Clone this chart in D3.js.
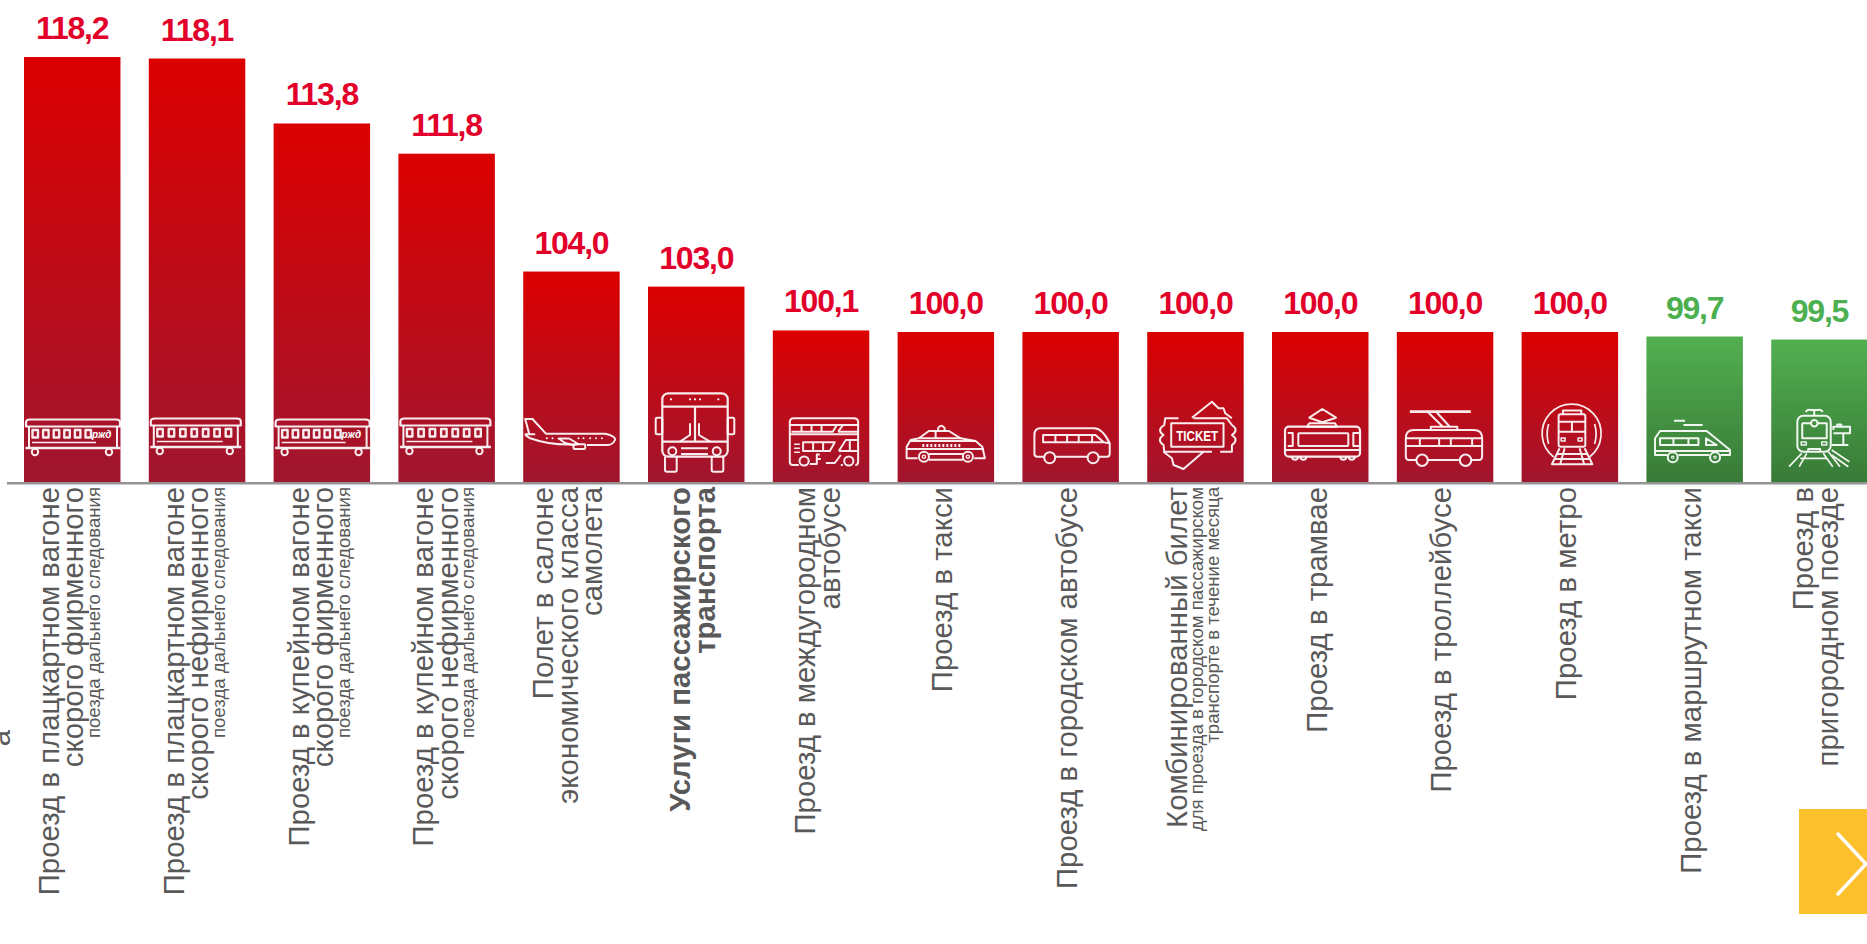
<!DOCTYPE html>
<html>
<head>
<meta charset="utf-8">
<script src="https://cdn.jsdelivr.net/npm/d3@7"></script>
<style>
  html, body { margin: 0; padding: 0; background: #fff; overflow: hidden; }
  svg { display: block; font-family: "Liberation Sans", Arial, sans-serif; }
</style>
</head>
<body>
<script>
/**
 * Chart data
 */
const mainLabels = [
    ["Проезд в плацкартном вагоне", "скорого фирменного"],
    ["Проезд в плацкартном вагоне", "скорого нефирменного"],
    ["Проезд в купейном вагоне", "скорого фирменного"],
    ["Проезд в купейном вагоне", "скорого нефирменного"],
    ["Полет в салоне", "экономического класса", "самолета"],
    ["Услуги пассажирского", "транспорта"],
    ["Проезд в междугородном", "автобусе"],
    ["Проезд в такси"],
    ["Проезд в городском автобусе"],
    ["Комбинированный билет"],
    ["Проезд в трамвае"],
    ["Проезд в троллейбусе"],
    ["Проезд в метро"],
    ["Проезд в маршрутном такси"],
    ["Проезд в", "пригородном поезде"]
];
const subLabels = [
    ["поезда дальнего следования"],
    ["поезда дальнего следования"],
    ["поезда дальнего следования"],
    ["поезда дальнего следования"],
    [], [], [], [], [],
    ["для проезда в городском пассажирском", "транспорте в течение месяца"],
    [], [], [], [], []
];
const values = [118.2, 118.1, 113.8, 111.8, 104.0, 103.0, 100.1, 100.0, 100.0, 100.0, 100.0, 100.0, 100.0, 99.7, 99.5];
const iconNames = ["carLogo", "car", "carLogo", "car", "plane", "busFront", "doubleDecker", "taxi",
    "busSide", "ticket", "tram", "trolleybus", "metro", "minibus", "commuter"];
const boldCategory = "Услуги пассажирского транспорта";

const categories = mainLabels.map(d => d.join(" "));

/**
 * Layout constants
 */
const WIDTH = 1867;
const HEIGHT = 944;
const BASELINE = 482;
const LABEL_SIZE = 29.4;    // Font size of the main label text
const SUB_SIZE = 18.6;      // Font size of the small label text
const LINE_STEP = 24.5;     // Line spacing of the main label text
const SUB_STEP = 15.5;      // Line spacing of the small label text

const svg = d3.select("body").append("svg")
    .attr("width", WIDTH)
    .attr("height", HEIGHT);

const x = d3.scaleBand()
    .domain(categories)
    .range([24, 1867.7])
    .paddingInner(0.227)
    .paddingOuter(0);

// The value axis is cut off well below zero in the original
const y = d3.scaleLinear()
    .domain([90.07, 118.2])
    .range([BASELINE, 57]);

/**
 * Bar gradients
 */
function addGradient(id, top, bottom) {
    const grad = svg.append("defs").append("linearGradient")
        .attr("id", id)
        .attr("x1", 0).attr("y1", 0)
        .attr("x2", 0).attr("y2", 1);
    grad.append("stop").attr("offset", "0%").attr("stop-color", top);
    grad.append("stop").attr("offset", "100%").attr("stop-color", bottom);
}
addGradient("barRed", "#dc0000", "#a0162f");
addGradient("barGreen", "#52b050", "#387a37");

const isGreen = v => v < 100;

const rows = categories.map((c, i) => ({
    category: c, value: values[i], main: mainLabels[i], sub: subLabels[i], icon: iconNames[i]
}));

/**
 * Bars and value labels
 */
svg.selectAll("rect.bar")
    .data(rows)
    .join("rect")
    .attr("class", "bar")
    .attr("x", d => x(d.category))
    .attr("y", d => y(d.value))
    .attr("width", x.bandwidth())
    .attr("height", d => BASELINE - y(d.value))
    .attr("fill", d => isGreen(d.value) ? "url(#barGreen)" : "url(#barRed)");

svg.selectAll("text.value")
    .data(rows)
    .join("text")
    .attr("class", "value")
    .attr("x", d => x(d.category) + x.bandwidth() / 2)
    .attr("y", d => y(d.value) - 18)
    .attr("text-anchor", "middle")
    .attr("font-size", 32)
    .attr("font-weight", "bold")
    .attr("letter-spacing", -1.2)
    .attr("fill", d => isGreen(d.value) ? "#4caf50" : "#e2002b")
    .text(d => d3.format(".1f")(d.value).replace(".", ","));

/**
 * Category axis: ticks from d3, the multi-line rotated labels are added on them
 */
const axisG = svg.append("g")
    .attr("transform", `translate(0,${BASELINE})`)
    .call(d3.axisBottom(x).tickSize(0).tickFormat(""));
axisG.select(".domain").remove();
axisG.selectAll("text").remove();

svg.append("line")
    .attr("x1", 7).attr("x2", WIDTH)
    .attr("y1", BASELINE + 1.2).attr("y2", BASELINE + 1.2)
    .attr("stroke", "#939393")
    .attr("stroke-width", 2.4);

axisG.selectAll(".tick").each(function (cat) {
    const row = rows.find(r => r.category === cat);
    const total = row.main.length * LINE_STEP + row.sub.length * SUB_STEP - (row.sub.length ? 1 : 0);
    let offset = -total / 2 + 18.5;
    const label = d3.select(this).append("g")
        .attr("transform", "translate(0,5) rotate(-90)");
    row.main.forEach(line => {
        label.append("text")
            .attr("x", 0).attr("y", offset)
            .attr("text-anchor", "end")
            .attr("font-size", LABEL_SIZE)
            .attr("font-weight", cat === boldCategory ? "bold" : "normal")
            .attr("fill", "#595959")
            .text(line);
        offset += LINE_STEP;
    });
    if (row.sub.length) offset -= LINE_STEP - 16.5;
    row.sub.forEach(line => {
        label.append("text")
            .attr("x", 0).attr("y", offset)
            .attr("text-anchor", "end")
            .attr("font-size", SUB_SIZE)
            .attr("fill", "#595959")
            .text(line);
        offset += SUB_STEP;
    });
});

// Clipped end of a rotated label at the left edge
svg.append("text")
    .attr("transform", "translate(10,730) rotate(-90)")
    .attr("text-anchor", "end")
    .attr("font-size", LABEL_SIZE)
    .attr("fill", "#595959")
    .text("а");

/**
 * Icons: drawn in pixels from the bar's left edge and the baseline
 */
function line(g, d, w) {
    return g.append("path").attr("d", d).attr("stroke-width", w || 2);
}
function ring(g, cx, cy, r, w) {
    return g.append("circle").attr("cx", cx).attr("cy", cy).attr("r", r).attr("stroke-width", w || 2);
}
function box(g, x0, y0, w, h, sw, rx) {
    return g.append("rect").attr("x", x0).attr("y", y0).attr("width", w).attr("height", h)
        .attr("rx", rx || 0).attr("stroke-width", sw || 2);
}

function drawCar(g, logo) {
    const w = logo ? 94 : 90;
    const n = logo ? 6 : 7;
    const step = logo ? 10.6 : 11.4;
    const top = logo ? -62.5 : -63.5;
    line(g, `M2,${top + 7} V${top + 3} Q2,${top} 6,${top} H${w - 2} Q${w + 2},${top} ${w + 2},${top + 3} V${top + 7} Z`, 2.2);
    line(g, `M5,${top + 7} V${top + 28} M${w - 1},${top + 7} V${top + 28}`, 2);
    line(g, `M1.5,${top + 28.5} H${w + 2.5}`, 2.4);
    d3.range(n).forEach(i => box(g, 8.5 + i * step, top + 10.5, 5.5, 7.5, 2.4));
    line(g, `M8,${top + 23} H${logo ? 72 : 74}`, 1.4);
    ring(g, 11, top + 32.5, 3.2);
    ring(g, w - 9, top + 32.5, 3.2);
    if (logo) {
        g.append("text").attr("x", 68).attr("y", top + 18)
            .attr("font-size", 10).attr("font-weight", "bold").attr("font-style", "italic")
            .attr("fill", "#fff").attr("stroke", "none").text("ржд");
    }
}

const iconDrawers = {
    carLogo: g => drawCar(g, true),
    car: g => drawCar(g, false),
    plane: g => {
        line(g, "M1.5,-47.7 H12 M6,-48 L2,-63 H9.3 L22.7,-48.3 H82 Q92,-46 92,-42.5 Q90,-37.5 85,-37 H63.7 M50,-37.5 C35,-37 20,-39 7,-43.7 L2,-47");
        line(g, "M35.3,-43.5 H46 L55,-38 L50,-37 L42,-39 Z");
        box(g, 50.3, -37.7, 11.7, 4.7, 2, 1);
        g.selectAll("circle.dot").data([23.7, 29.3, 55.3, 60.3, 67, 72.7, 78.7]).join("circle")
            .attr("cx", d => d).attr("cy", -43.7).attr("r", 1)
            .attr("fill", "#fff").attr("stroke", "none");
    },
    busFront: g => {
        box(g, 14.3, -88.7, 65.4, 63.4, 2.2, 6);
        line(g, "M14.3,-75.3 H79.7 M47,-75.3 V-40.3 M14.3,-40.3 H79.7", 2.2);
        box(g, 7.7, -64.3, 6.6, 16.6, 2, 1.5);
        box(g, 79.7, -64.3, 6.6, 16.6, 2, 1.5);
        line(g, "M42,-58.7 V-47 L32,-40.3 M51,-58.7 V-47 L62,-40.3");
        ring(g, 24.3, -30.7, 4);
        ring(g, 68.7, -30.7, 4);
        line(g, "M33,-33.7 H60 M33,-28 H60");
        line(g, "M17,-25.3 V-12 Q17,-10.3 19,-10.3 H27 Q28.7,-10.3 28.7,-12 V-25.3 M63.7,-25.3 V-12 Q63.7,-10.3 65.5,-10.3 H73.5 Q75.3,-10.3 75.3,-12 V-25.3");
        g.selectAll("circle.dot").data([23, 42, 47, 52, 70.3]).join("circle")
            .attr("cx", d => d).attr("cy", -82.7).attr("r", 1.1)
            .attr("fill", "#fff").attr("stroke", "none");
    },
    doubleDecker: g => {
        line(g, "M26,-17 H20 Q17,-17 17,-20 V-60 Q17,-63.7 21,-63.7 H81 Q85.3,-63.7 85.3,-60 V-20 Q85.3,-17 82.5,-17");
        line(g, "M17,-57 H85.3 M18.7,-50.3 H60 L64,-57 M28.7,-57 V-50.3 M38.7,-57 V-50.3 M48.7,-57 V-50.3");
        line(g, "M65.3,-50.3 L70.3,-57 M65.3,-50.3 H85.3 M17,-47.7 H85.3");
        line(g, "M30.3,-39.7 H62 L57,-31 H30.3 Z M40.3,-39.7 V-31 M50.3,-39.7 V-31");
        line(g, "M66,-31 L73,-42 H85.3 M66,-31 H85.3 M77,-42 V-31");
        line(g, "M21.3,-37.7 H27 M21.3,-33.7 H27 M21.3,-29.7 H27", 1.6);
        ring(g, 31.3, -21, 4.6);
        ring(g, 76, -21, 4.6);
        line(g, "M37,-18 H44 V-27.5 H47 M44,-23 H48 M53,-19 H62 L68,-27 M68,-17 H70");
    },
    taxi: g => {
        line(g, "M20,-23.7 H9 V-35.3 L13,-42 L21.3,-43.7 L31.3,-51 H51.3 L63,-43.7 L78,-41 L84.7,-35.3 L87.3,-23.7 H76.5");
        line(g, "M21.3,-43.7 H63 M38,-51 V-43.7 M13,-41 H78 M9,-33 H86 M31.3,-22.3 H65.3 M31.3,-28 H65.3");
        line(g, "M24.7,-36.5 H63", 3).attr("stroke-dasharray", "2 2");
        ring(g, 26.3, -25.3, 5);
        ring(g, 70.3, -25.3, 5);
        ring(g, 26.3, -25.3, 1.6, 1.4);
        ring(g, 70.3, -25.3, 1.6, 1.4);
        line(g, "M40.5,-51 V-54 Q43.7,-58.5 47,-54 V-51");
    },
    busSide: g => {
        line(g, "M21.5,-25.3 H15 Q12,-25.3 12,-28.3 V-47 Q12,-53.7 18,-53.7 H72 Q80,-53.7 87.3,-38.7 V-28 Q87.3,-25.3 84.5,-25.3 H76.5 M33,-25.3 H65");
        line(g, "M20.7,-47 H73 L81.3,-39.7 H20.7 Z M33,-47 V-39.7 M44.7,-47 V-39.7 M56.3,-47 V-39.7 M69.7,-47 V-39.7 M81.3,-39.7 L87.3,-38.7");
        ring(g, 27.3, -24.3, 5.5);
        ring(g, 70.7, -24.3, 5.5);
    },
    ticket: g => {
        line(g, "M31.3,-63.7 H18 L17,-57 Q9,-52 16.3,-47 Q9,-42 16.3,-37 L17,-30.3 H64.7 M73,-30.3 H84.7 V-37 Q92,-42 84.7,-47 Q92,-52 84.7,-57 L79.7,-63.7 H46.3");
        line(g, "M44.7,-64.3 L64.7,-80.3 L71.3,-73.7 H76.3 L78,-68.7 L84.7,-63.7");
        line(g, "M16.3,-30.3 L24.7,-23.7 L26.3,-17 L36.3,-13 L56.3,-30.3");
        box(g, 24, -58.7, 52.3, 23.4);
        g.append("text").attr("x", 50).attr("y", -41.5).attr("text-anchor", "middle")
            .attr("font-size", 14.5).attr("font-weight", "bold")
            .attr("textLength", 42).attr("lengthAdjust", "spacingAndGlyphs")
            .attr("fill", "#fff").attr("stroke", "none").text("TICKET");
    },
    tram: g => {
        box(g, 13, -55.3, 75, 30, 2.2, 4);
        line(g, "M50.3,-73 L64,-64.3 L50.3,-59.7 L37.3,-64.3 Z M37.3,-58.7 H63 L65,-55.3 H35 Z");
        box(g, 26.3, -48.7, 50, 12.7, 2, 1);
        line(g, "M15.7,-49 H20.7 V-36 H15.7 M87,-49 H81.3 V-36 H87 M13,-32 H88");
        line(g, "M20,-25.3 A3,3 0 0 0 26,-25.3 M28.3,-25.3 A3,3 0 0 0 34.3,-25.3 M68.3,-25.3 A3,3 0 0 0 74.3,-25.3 M76.7,-25.3 A3,3 0 0 0 82.7,-25.3");
    },
    trolleybus: g => {
        line(g, "M13,-70.3 H74", 2.8);
        line(g, "M31,-70 L46,-55.3 M39.5,-70 L53,-55.3", 2);
        line(g, "M34,-52 V-55.3 H60.5 V-52");
        line(g, "M19.5,-22 H12 Q9,-22 9,-26 V-44 Q9,-52 17,-52 H77 Q85.3,-52 85.3,-44 V-26 Q85.3,-22 82,-22 H74.5 M31,-22 H62");
        line(g, "M9,-43.7 H85.3 M9,-36 H85.3 M23,-43.7 V-36 M42.3,-43.7 V-36 M54,-43.7 V-36 M75.3,-43.7 V-36");
        ring(g, 25.3, -21.7, 5.7);
        ring(g, 68.7, -21.7, 5.7);
    },
    metro: g => {
        line(g, "M32,-25 A29.5,29.5 0 1 1 68,-25", 1.7);
        line(g, "M27,-58 Q24,-48 27,-38 M73,-58 Q76,-48 73,-38", 1.7);
        box(g, 37, -67.7, 26.7, 32.4, 2, 2);
        line(g, "M41.3,-67.7 V-71.5 H59.7 V-67.7 M37,-60.3 H63.7 M37,-50.3 H63.7 M50.3,-60.3 V-50.3");
        box(g, 39.5, -44, 4, 3, 1.5);
        box(g, 56.5, -44, 4, 3, 1.5);
        line(g, "M38,-33.7 L30.3,-17.7 H70.7 L63,-33.7 M43,-33.7 L38.5,-17.7 M58,-33.7 L62.5,-17.7 M36,-28 H65 M33.5,-23 H67.5");
    },
    minibus: g => {
        line(g, "M21,-27 H8.6 V-43.7 L13.6,-51 H60.3 L83.6,-32 V-27 H74 M32,-27 H63 M8.6,-31 H83.6");
        line(g, "M13.6,-43.7 H52 V-37 H13.6 Z M27,-43.7 V-37 M42,-43.7 V-37");
        line(g, "M59.6,-43.7 L70.3,-37 H59.6 Z");
        line(g, "M27.6,-61.3 H38.6 M37,-57 H56.3");
        ring(g, 26.3, -24.7, 5);
        ring(g, 68.6, -24.7, 5);
        ring(g, 26.3, -24.7, 1.2, 1.2);
        ring(g, 68.6, -24.7, 1.2, 1.2);
    },
    commuter: g => {
        box(g, 26.1, -66.3, 33.4, 36, 2, 6);
        line(g, "M31,-58.7 H39.8 M46.4,-58.7 H55.5 V-43.7 H31 V-58.7");
        ring(g, 43.1, -58.7, 3.3);
        box(g, 30, -40, 5, 3, 1.5);
        box(g, 50.5, -40, 5, 3, 1.5);
        line(g, "M37,-30.3 V-33 H49 V-30.3");
        line(g, "M34.5,-70 Q36,-73 39,-72 H47 Q50,-73 51.5,-70 M43,-72 V-66.3");
        line(g, "M30.5,-28.7 L17.8,-15.3 M35.5,-28.7 L28,-15.3 M52,-28.7 L61.5,-15.3 M57.1,-30.3 L68.8,-15.3 M60.5,-32 L78.1,-20.3 M60.5,-27 L77.1,-15.3 M29,-23.7 H55", 1.7);
        line(g, "M62.1,-52 V-55.3 H78.8 V-48.7 H62.1 M66,-55.3 V-57.5 H70 V-55.3 M72.1,-48.7 V-37 M60.5,-37 H77.1");
    }
};

svg.selectAll("g.icon")
    .data(rows)
    .join("g")
    .attr("class", "icon")
    .attr("transform", d => `translate(${x(d.category)},${BASELINE})`)
    .attr("fill", "none")
    .attr("stroke", "#ffffff")
    .attr("stroke-opacity", 0.92)
    .attr("stroke-linejoin", "round")
    .each(function (d) { iconDrawers[d.icon](d3.select(this)); });

/**
 * Next-page button at the lower right
 */
svg.append("rect")
    .attr("x", 1799).attr("y", 809)
    .attr("width", WIDTH - 1799).attr("height", 105)
    .attr("fill", "#fdc02d");
svg.append("path")
    .attr("d", "M1838,834 L1866,864 L1838,894")
    .attr("fill", "none")
    .attr("stroke", "#ffffff")
    .attr("stroke-width", 3.5)
    .attr("stroke-linecap", "round");
</script>
</body>
</html>
